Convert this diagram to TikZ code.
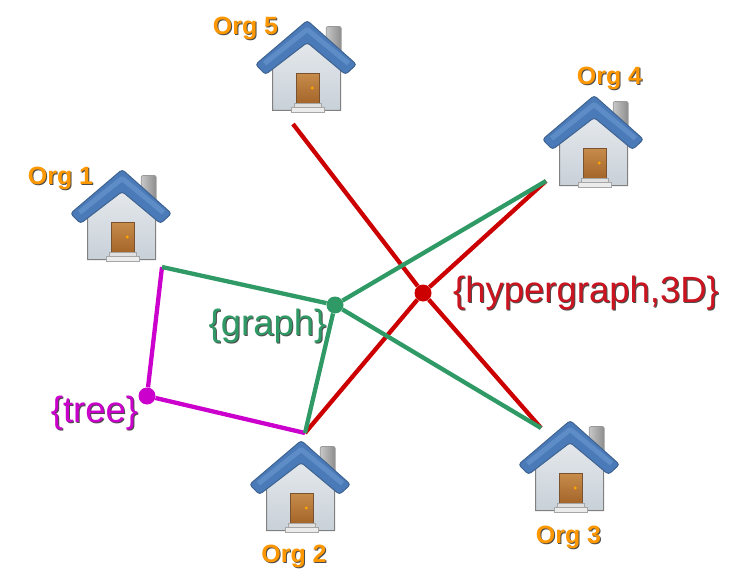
\documentclass[tikz,border=0pt]{standalone}
\usepackage{fontspec}
\setmainfont{Liberation Sans}
\usepackage{tikz}

\definecolor{orglabel}{HTML}{FF9800}
\definecolor{graphgreen}{HTML}{2F9A66}
\definecolor{hyperred}{HTML}{CC0000}
\definecolor{hypertext}{HTML}{CC1420}
\definecolor{treepurple}{HTML}{CC00CC}
\definecolor{roofblue}{HTML}{4A7AB8}
\definecolor{rooflight}{HTML}{5E8CC6}
\definecolor{roofedge}{HTML}{3F6390}
\definecolor{doortop}{HTML}{C68C4A}
\definecolor{doorlow}{HTML}{A5652A}
\definecolor{dooredge}{HTML}{7A5230}
\definecolor{walltop}{HTML}{E9ECEF}
\definecolor{walllow}{HTML}{C8D0D8}

\newcommand{\shadowed}[2]{\makebox[0pt][l]{\hspace{1pt}\raisebox{-1pt}{\textcolor{black!70}{#2}}}\textcolor{#1}{#2}}

\tikzset{
  orgname/.style={inner sep=0pt, font=\fontsize{25}{25}\selectfont\bfseries},
  setname/.style={inner sep=0pt, font=\fontsize{36.5}{36.5}\selectfont},
  house/.pic={
    \shade[left color=black!22, right color=black!45, draw=black!40, line width=.8pt, rounded corners=2pt] (19.7,4) rectangle (34.7,32);
    \shade[top color=walltop, bottom color=walllow, draw=black!50, line width=1pt] (-34,30) -- (-34,88) -- (34,88) -- (34,30) -- (0,8) -- cycle;
    \shade[top color=doortop, bottom color=doorlow, draw=dooredge, line width=1pt] (-10,50.7) rectangle (12.7,80.7);
    \fill[orange!70!yellow] (5.7,65.5) circle (1.6pt);
    \fill[black!12, draw=black!35, line width=.8pt] (-12,80.7) rectangle (15,85);
    \fill[black!8, draw=black!35, line width=.8pt] (-15.5,85) rectangle (18,89.5);
    \fill[rounded corners=3pt, fill=roofblue, draw=roofedge, line width=1pt]
      (.7,-2) -- (50,42) -- (39,52) -- (.7,20) -- (-41,52) -- (-51,42) -- cycle;
    \draw[line width=5pt, color=rooflight, line join=round] (-42,41) -- (.7,7) -- (42,41);
  }
}

\begin{document}
\begin{tikzpicture}[x=1pt, y=-1pt]
\useasboundingbox (0,0) rectangle (735,572);

\pic at (121.5,171.5) {house};
\pic at (300.5,442.5) {house};
\pic at (569.5,422.5) {house};
\pic at (593.5,97.5) {house};
\pic at (306.5,22.5) {house};

\node[orgname] (n1) at (60.5,178.5) {\shadowed{orglabel}{Org 1}};
\node[orgname] (n2) at (294,556.5) {\shadowed{orglabel}{Org 2}};
\node[orgname] (n3) at (568.5,537.5) {\shadowed{orglabel}{Org 3}};
\node[orgname] (n4) at (609.5,78.5) {\shadowed{orglabel}{Org 4}};
\node[orgname] (n5) at (245.5,28.5) {\shadowed{orglabel}{Org 5}};

\coordinate (P1) at (162,267);
\coordinate (P2) at (305,433);
\coordinate (P3) at (541,428);
\coordinate (P4) at (546,181);
\coordinate (P5) at (293,124);

\node[circle, fill=treepurple, inner sep=0pt, minimum size=17pt] (T) at (147,396) {};
\node[circle, fill=graphgreen, inner sep=0pt, minimum size=17pt] (G) at (335,305) {};
\node[circle, fill=hyperred, inner sep=0pt, minimum size=17pt] (H) at (423,293) {};

\draw[treepurple, line width=4.3pt] (P1) -- (T);
\draw[treepurple, line width=4.3pt] (T) -- (P2);
\draw[hyperred, line width=4.3pt] (P2) -- (H);
\draw[hyperred, line width=4.3pt] (P3) -- (H);
\draw[hyperred, line width=4.3pt] (P4) -- (H);
\draw[hyperred, line width=4.3pt] (P5) -- (H);
\draw[graphgreen, line width=4.3pt] (P1) -- (G);
\draw[graphgreen, line width=4.3pt] (P2) -- (G);
\draw[graphgreen, line width=4.3pt] (P3) -- (G);
\draw[graphgreen, line width=4.3pt] (P4) -- (G);

\node[setname] (L1) at (94.5,413.5) {\shadowed{treepurple}{\{tree\}}};
\node[setname] (L2) at (267.5,326.5) {\shadowed{graphgreen}{\{graph\}}};
\node[setname] (L3) at (586,293.5) {\shadowed{hypertext}{\{hypergraph,3D\}}};
\end{tikzpicture}
\end{document}
